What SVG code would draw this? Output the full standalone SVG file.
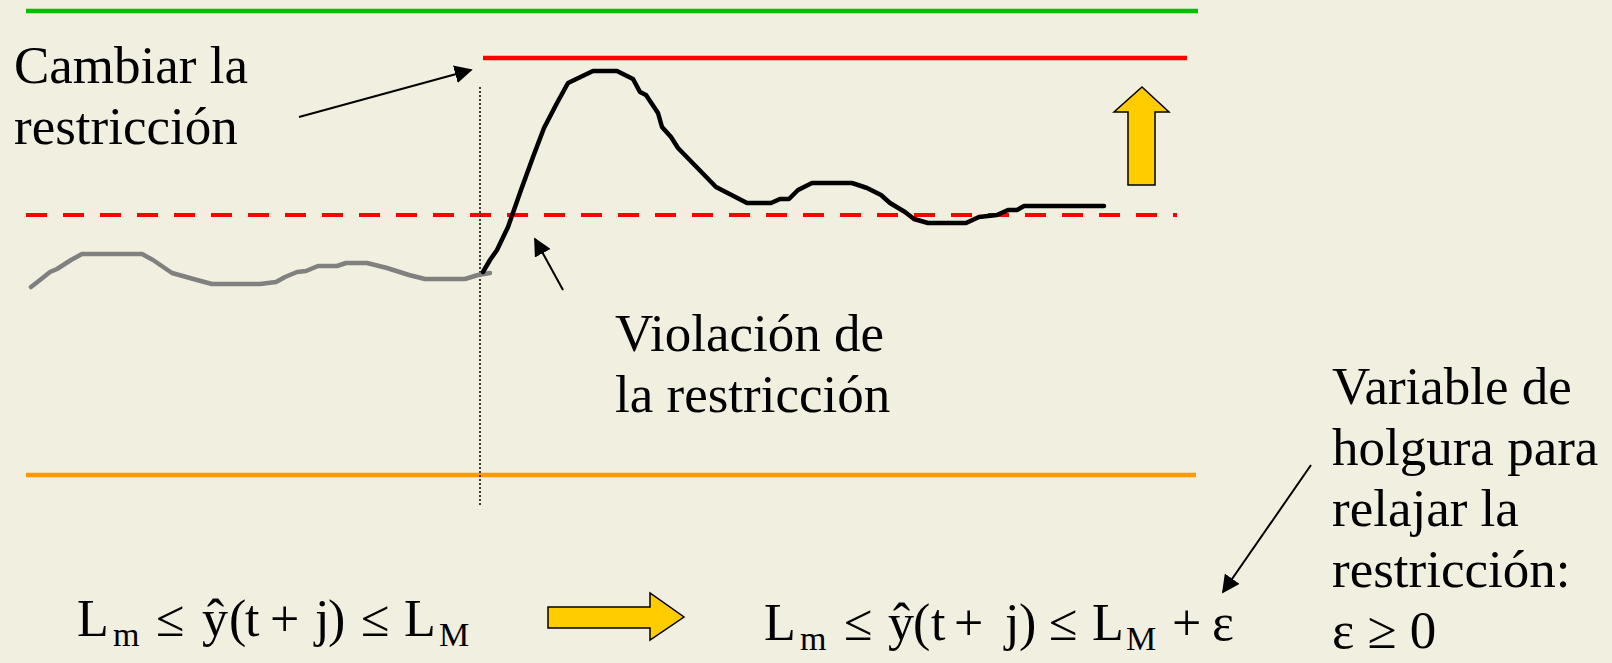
<svg xmlns="http://www.w3.org/2000/svg" width="1612" height="663" viewBox="0 0 1612 663">
<defs>
<style>
text{font-family:'Liberation Serif','DejaVu Serif',serif;font-size:53px;fill:#000}
.f{font-size:52px}
.s{font-size:34px}
.thin{stroke:#000;stroke-width:2;fill:none}
.ya{fill:#FFCC00;stroke:#000;stroke-width:1.5;stroke-linejoin:miter}
</style>
<marker id="ahb" viewBox="0 0 10 10" refX="9" refY="5" markerWidth="9" markerHeight="9" orient="auto">
<path d="M0,0 L10,5 L0,10 z" fill="#000"/>
</marker>
</defs>
<rect width="1612" height="663" fill="#F1EFDF"/>
<g id="limits">
<line x1="26" y1="11" x2="1198" y2="11" stroke="#00C000" stroke-width="4.5"/>
<line x1="483" y1="58" x2="1187" y2="58" stroke="#FF0000" stroke-width="4.5"/>
<line x1="26" y1="215" x2="1177" y2="215" stroke="#FF0000" stroke-width="4" stroke-dasharray="21 16"/>
<line x1="26" y1="475" x2="1196" y2="475" stroke="#FF9900" stroke-width="4.5"/>
<line x1="480" y1="87" x2="480" y2="506" stroke="#000" stroke-width="1.5" stroke-dasharray="2 2"/>
</g>
<g id="past-output">
<polyline fill="none" stroke="#808080" stroke-width="4.5" stroke-linejoin="round" stroke-linecap="round" points="31,287 40,280 50,272 57,269 71,260 82,254 142,254 153,260 172,273 197,280 212,284 260,284 276,282 285,277 297,272 306,271 318,266 337,266 346,263 367,263 387,268 409,275 425,279 465,279 478,275 490,273"/>
</g>
<g id="predicted-output">
<polyline fill="none" stroke="#000" stroke-width="4.5" stroke-linejoin="round" stroke-linecap="round" points="483,272 490,260 497,250 508,227 521,190 533,157 544,128 557,103 568,83 593,71 617,71 633,79 640,92 646,95 658,113 662,127 671,137 678,148 716,187 747,203 771,203 780,199 789,199 798,190 812,183 852,183 867,188 881,195 890,203 905,212 914,219 928,223 966,223 979,217 997,215 1008,210 1017,210 1024,206 1104,206"/>
</g>
<g id="connectors">
<line class="thin" x1="299" y1="117" x2="471" y2="70" marker-end="url(#ahb)"/>
<line class="thin" x1="563" y1="290" x2="535" y2="239" marker-end="url(#ahb)"/>
<line class="thin" x1="1311" y1="465" x2="1223" y2="592" marker-end="url(#ahb)"/>
</g>
<g id="up-arrow">
<polygon class="ya" points="1142,87 1169,112 1155,112 1155,185 1128,185 1128,112 1114,112"/>
</g>
<g id="right-arrow">
<polygon class="ya" points="548,607 650,607 650,593 684,617 650,640 650,628 548,628"/>
</g>
<g id="label-cambiar">
<text x="14" y="83">Cambiar la</text>
<text x="14" y="144">restricción</text>
</g>
<g id="label-violacion">
<text x="615" y="351">Violación de</text>
<text x="615" y="412">la restricción</text>
</g>
<g id="label-holgura">
<text x="1332" y="404">Variable de</text>
<text x="1332" y="465">holgura para</text>
<text x="1332" y="526">relajar la</text>
<text x="1332" y="587">restricción:</text>
<text x="1332" y="648">ε ≥ 0</text>
</g>
<g id="formula-original">
<text class="f" y="636"><tspan x="77">L</tspan><tspan class="s" x="113" y="646">m</tspan><tspan x="156" y="636">≤</tspan><tspan x="202">ŷ</tspan><tspan x="229">(</tspan><tspan x="245">t</tspan><tspan x="270">+</tspan><tspan x="315">j</tspan><tspan x="328">)</tspan><tspan x="361">≤</tspan><tspan x="404">L</tspan><tspan class="s" x="439" y="646">M</tspan></text>
</g>
<g id="formula-relaxed">
<text class="f" y="640"><tspan x="764">L</tspan><tspan class="s" x="800" y="650">m</tspan><tspan x="844" y="640">≤</tspan><tspan x="888">ŷ</tspan><tspan x="913">(</tspan><tspan x="931">t</tspan><tspan x="954">+</tspan><tspan x="1005">j</tspan><tspan x="1019">)</tspan><tspan x="1049">≤</tspan><tspan x="1092">L</tspan><tspan class="s" x="1126" y="650">M</tspan><tspan x="1172" y="640">+</tspan><tspan x="1212">ε</tspan></text>
</g>
</svg>
